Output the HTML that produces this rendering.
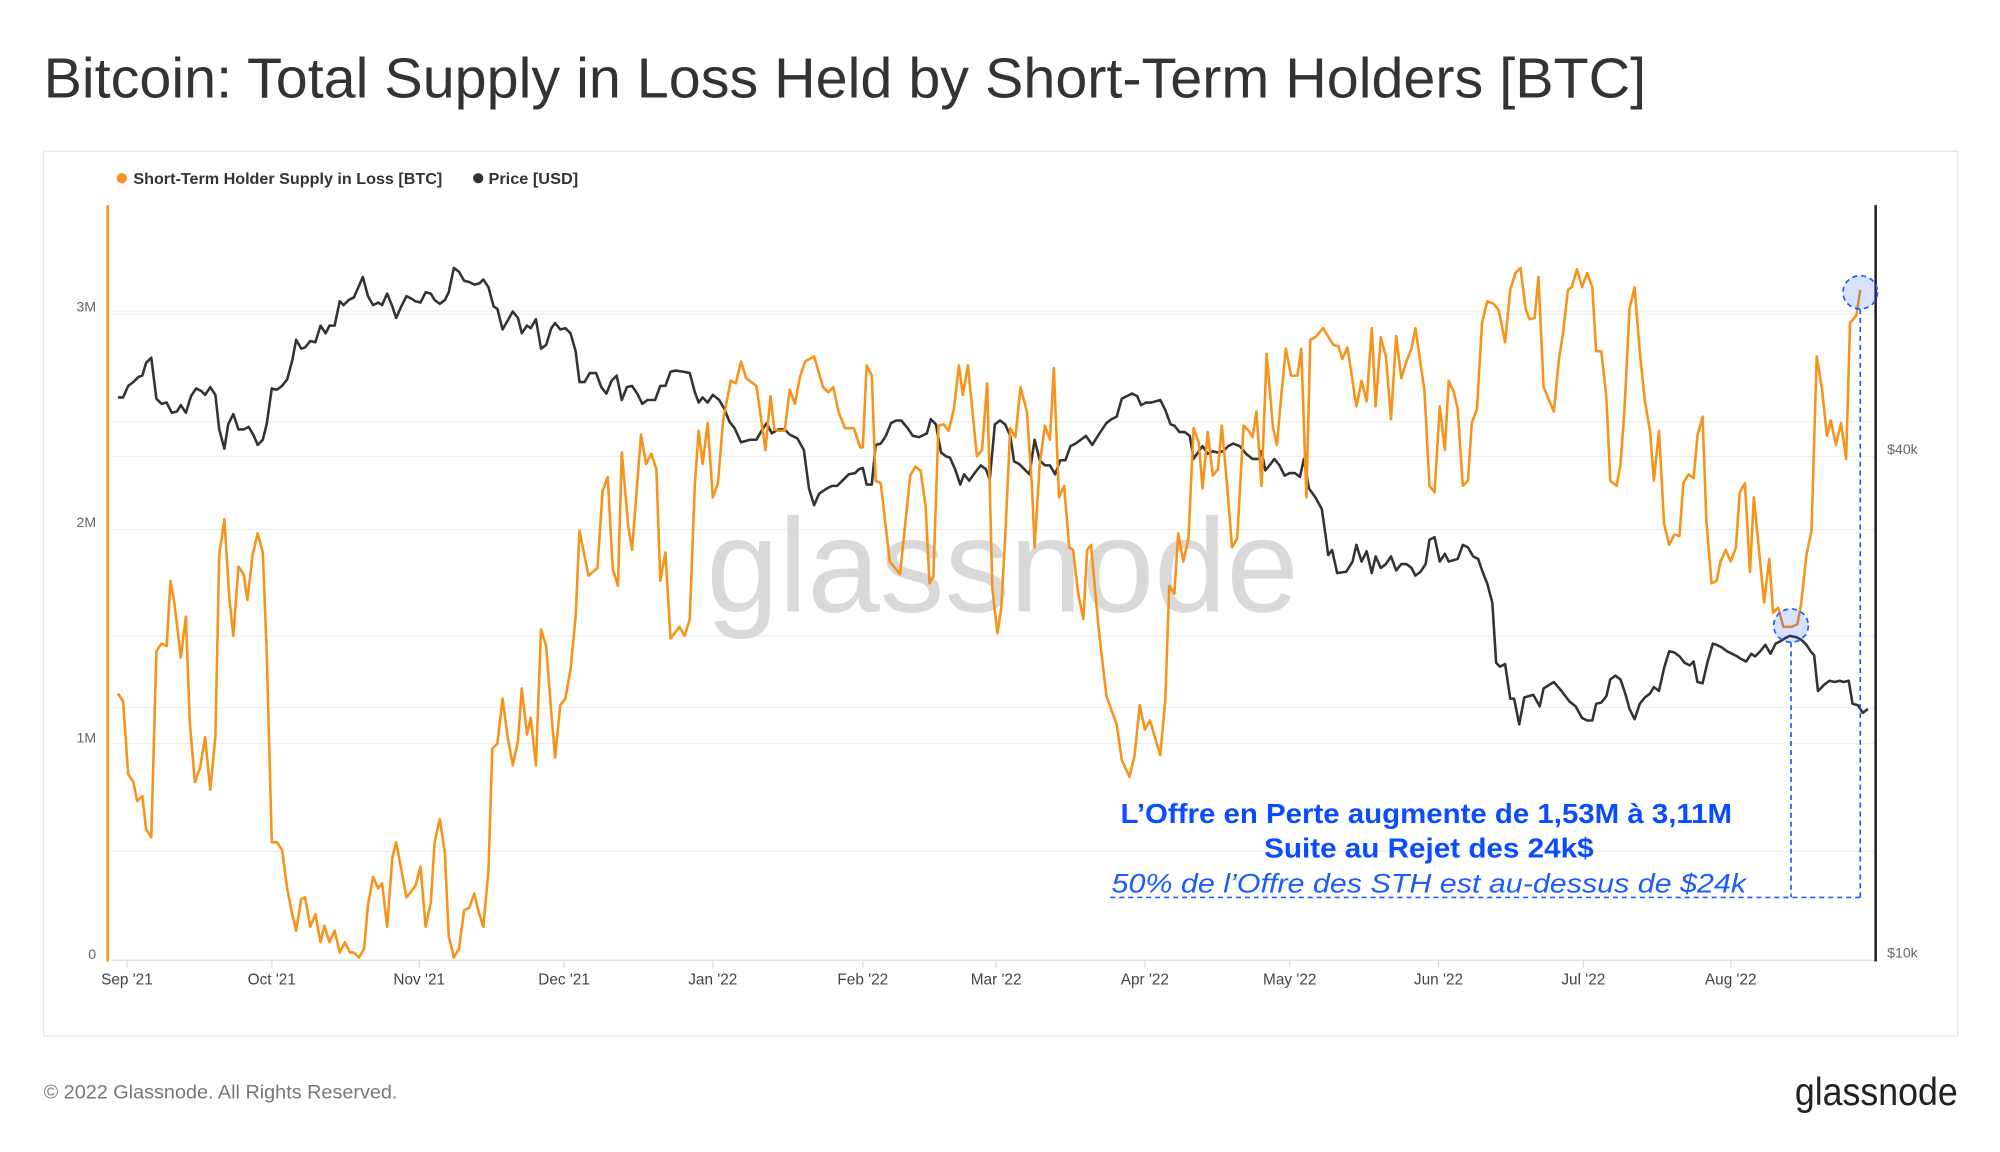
<!DOCTYPE html>
<html><head><meta charset="utf-8"><style>html,body{margin:0;padding:0;background:#fff}svg{display:block}</style></head>
<body>
<svg width="2000" height="1152" viewBox="0 0 1560 898.6" preserveAspectRatio="none" xmlns="http://www.w3.org/2000/svg" font-family="Liberation Sans, sans-serif">
<rect width="1560" height="899" fill="#fff"/>
<text x="34" y="76" font-size="44" fill="#333" textLength="1250" lengthAdjust="spacingAndGlyphs">Bitcoin: Total Supply in Loss Held by Short-Term Holders [BTC]</text>
<rect x="34" y="118" width="1493" height="690" fill="none" stroke="#e6e6e6" stroke-width="1"/>
<circle cx="95" cy="139" r="4" fill="#f7931a"/>
<text x="104" y="143.5" font-size="12" font-weight="bold" fill="#333" textLength="241" lengthAdjust="spacingAndGlyphs">Short-Term Holder Supply in Loss [BTC]</text>
<circle cx="373" cy="139" r="4" fill="#333"/>
<text x="381" y="143.5" font-size="12" font-weight="bold" fill="#333" textLength="70" lengthAdjust="spacingAndGlyphs">Price [USD]</text>
<g stroke="#efefef" stroke-width="1">
<line x1="88" x2="1463" y1="242.6" y2="242.6"/><line x1="88" x2="1463" y1="245" y2="245"/>
<line x1="88" x2="1463" y1="329" y2="329"/><line x1="88" x2="1463" y1="356" y2="356"/>
<line x1="88" x2="1463" y1="413" y2="413"/><line x1="88" x2="1463" y1="496" y2="496"/>
<line x1="88" x2="1463" y1="552" y2="552"/><line x1="88" x2="1463" y1="580" y2="580"/>
<line x1="88" x2="1463" y1="664" y2="664"/>
</g>
<line x1="88" x2="1463" y1="749" y2="749" stroke="#ddd"/>
<g stroke="#ddd"><line x1="99" x2="99" y1="749" y2="755"/><line x1="212" x2="212" y1="749" y2="755"/><line x1="327" x2="327" y1="749" y2="755"/><line x1="440" x2="440" y1="749" y2="755"/><line x1="556" x2="556" y1="749" y2="755"/><line x1="673" x2="673" y1="749" y2="755"/><line x1="777" x2="777" y1="749" y2="755"/><line x1="893" x2="893" y1="749" y2="755"/><line x1="1006" x2="1006" y1="749" y2="755"/><line x1="1122" x2="1122" y1="749" y2="755"/><line x1="1235" x2="1235" y1="749" y2="755"/><line x1="1350" x2="1350" y1="749" y2="755"/></g>
<g font-size="12" fill="#444" text-anchor="middle">
<text x="99" y="768">Sep '21</text><text x="212" y="768">Oct '21</text><text x="327" y="768">Nov '21</text><text x="440" y="768">Dec '21</text><text x="556" y="768">Jan '22</text><text x="673" y="768">Feb '22</text><text x="777" y="768">Mar '22</text><text x="893" y="768">Apr '22</text><text x="1006" y="768">May '22</text><text x="1122" y="768">Jun '22</text><text x="1235" y="768">Jul '22</text><text x="1350" y="768">Aug '22</text>
</g>
<g font-size="11" fill="#666" text-anchor="end">
<text x="75" y="243">3M</text><text x="75" y="411">2M</text><text x="75" y="579">1M</text><text x="75" y="748">0</text>
</g>
<g font-size="11" fill="#666"><text x="1472" y="354">$40k</text><text x="1472" y="747">$10k</text></g>
<text x="551" y="477" font-size="104" fill="#d9d9d9" textLength="462" lengthAdjust="spacingAndGlyphs">glassnode</text>
<line x1="84" x2="84" y1="160" y2="750" stroke="#f7931a" stroke-width="2"/>
<line x1="1463" x2="1463" y1="160" y2="750" stroke="#222" stroke-width="2"/>
<polyline fill="none" stroke="#333" stroke-width="2" stroke-linejoin="round" points="92,310 96,310 100,301 104,298 108,294 111,293 114,283 118,279 122,311 126,315 130,314 134,322 138,321 141,316 145,322 149,309 153,303 157,305 160,308 164,302 168,308 171,335 175,350 178,331 182,323 186,335 190,335 194,333 198,340 201,347 205,343 208,331 212,303 216,304 220,301 224,296 228,281 231,265 235,272 238,271 242,266 246,267 250,254 254,260 257,254 261,254 265,235 268,238 272,234 276,232 280,223 283,216 287,231 291,238 295,236 298,238 302,229 306,239 309,248 313,239 317,231 321,233 324,235 328,236 332,228 336,229 339,234 343,237 347,234 350,228 354,209 358,212 362,219 366,220 370,222 374,221 377,218 381,224 385,239 388,241 392,257 396,250 400,243 404,248 407,260 411,254 414,256 418,249 422,272 426,269 430,256 433,252 437,257 441,256 445,260 449,274 452,298 456,298 460,291 465,291 469,302 473,307 477,297 481,293 485,312 489,302 493,301 497,307 501,315 505,312 511,312 515,301 519,301 523,290 527,289 533,290 538,291 542,306 545,314 548,310 552,314 556,308 561,312 565,319 569,329 573,334 578,345 585,343 590,343 594,336 598,330 602,338 607,335 612,335 616,339 622,342 627,351 631,381 635,394 639,385 645,381 649,379 653,379 658,374 662,370 667,369 670,366 673,365 676,378 680,378 683,347 687,346 691,340 695,330 699,328 703,328 708,334 712,340 717,341 723,338 726,327 730,331 734,353 738,356 741,357 745,366 749,378 752,370 756,375 761,368 765,363 769,366 772,374 776,331 780,328 784,331 788,340 791,360 795,362 799,366 803,370 807,343 811,359 815,363 819,363 823,370 827,359 831,359 835,348 839,346 843,343 847,340 852,347 857,339 863,330 867,327 871,325 875,311 879,309 883,307 887,309 890,316 894,314 898,314 905,312 909,320 913,331 916,332 920,337 924,337 928,340 931,358 935,352 938,348 942,354 946,352 950,353 954,352 958,348 962,346 967,348 972,354 977,358 982,358 984,352 987,367 991,362 994,358 998,363 1002,371 1006,369 1010,369 1014,372 1017,358 1021,381 1026,388 1031,397 1034,418 1036,433 1039,429 1043,447 1050,446 1055,438 1058,425 1062,438 1066,430 1070,447 1073,434 1077,443 1081,440 1085,434 1089,445 1093,440 1097,440 1101,443 1104,449 1108,446 1112,440 1115,421 1119,419 1123,438 1127,432 1130,438 1137,436 1141,425 1145,427 1149,434 1153,436 1156,445 1160,455 1164,470 1167,517 1170,520 1174,518 1178,545 1181,545 1185,565 1189,544 1196,542 1201,551 1204,537 1212,532 1218,539 1224,547 1229,551 1234,560 1238,562 1242,562 1245,549 1249,548 1253,543 1256,530 1260,527 1264,530 1268,542 1271,553 1275,561 1279,549 1283,544 1287,541 1290,536 1294,539 1298,521 1302,508 1306,509 1310,512 1314,517 1318,519 1321,516 1324,532 1328,533 1332,516 1336,502 1339,503 1343,505 1347,508 1351,510 1355,512 1358,514 1362,516 1366,510 1369,512 1373,508 1377,503 1381,510 1385,502 1389,500 1392,498 1396,496 1401,497 1405,499 1409,503 1413,509 1415,511 1418,539 1423,534 1427,531 1431,532 1435,531 1438,532 1442,531 1445,549 1449,550 1453,556 1457,553"/>
<polyline fill="none" stroke="#f7931a" stroke-width="2" stroke-linejoin="round" points="92,541 96,547 100,604 104,610 107,625 111,621 114,647 118,653 122,508 126,502 130,504 133,453 136,470 141,513 145,481 148,563 152,610 156,599 160,575 164,616 168,575 171,433 175,405 179,468 182,496 186,442 190,448 193,468 197,433 201,416 205,431 208,508 212,657 216,657 220,663 224,693 227,709 231,726 235,701 238,700 242,723 246,713 250,735 253,722 257,735 261,726 265,743 269,735 273,743 276,743 280,747 284,740 287,706 291,684 295,693 298,689 302,723 306,669 309,657 313,678 317,700 321,695 324,691 328,676 332,723 336,704 339,657 343,639 347,665 350,730 354,747 358,740 362,710 366,708 370,697 373,710 377,723 381,679 384,584 388,580 392,545 396,575 400,597 404,578 407,537 411,573 414,560 418,597 422,491 426,504 430,556 433,591 437,550 441,545 445,522 449,481 452,414 459,449 466,443 470,383 474,372 478,444 482,457 485,353 490,410 493,429 500,339 504,362 508,354 512,366 515,453 519,431 523,498 530,489 534,496 538,483 542,377 545,336 548,362 552,330 556,388 560,377 564,328 570,297 574,299 578,282 582,295 590,301 594,329 597,351 601,309 604,335 607,336 612,336 616,304 620,315 624,294 628,282 635,278 642,302 646,306 650,302 654,321 659,334 666,334 671,349 673,349 676,285 680,293 683,375 687,377 694,438 702,448 710,371 714,364 718,367 722,395 725,455 728,450 732,332 736,331 740,336 744,319 748,285 751,308 755,285 762,356 766,351 770,299 774,459 778,494 781,474 784,420 788,334 792,341 796,302 801,321 805,381 807,427 811,362 815,332 819,343 822,287 826,388 830,379 834,427 837,429 841,463 845,483 848,429 851,425 857,491 863,543 871,565 875,593 881,606 885,589 889,550 893,569 897,562 905,589 909,545 912,457 916,463 919,416 923,438 927,420 931,334 935,345 938,381 942,337 946,371 950,366 953,332 957,377 961,427 965,420 970,332 974,336 977,341 980,321 984,379 988,276 993,334 996,347 1000,302 1003,272 1007,293 1012,293 1015,272 1019,388 1022,265 1026,263 1032,256 1040,269 1044,270 1047,280 1051,271 1058,317 1062,297 1066,313 1070,256 1073,317 1077,263 1081,278 1085,327 1089,262 1093,295 1097,282 1101,272 1104,256 1111,304 1115,379 1119,384 1123,317 1127,351 1130,297 1134,306 1137,319 1141,379 1145,375 1148,330 1152,319 1156,252 1160,235 1165,237 1169,242 1174,267 1178,226 1182,213 1186,209 1190,241 1193,249 1197,248 1200,216 1204,302 1212,321 1216,280 1219,261 1223,226 1226,224 1230,210 1234,224 1238,213 1242,224 1245,274 1249,274 1253,310 1256,375 1261,379 1264,362 1267,321 1271,241 1275,224 1279,274 1283,313 1287,336 1290,375 1294,336 1298,409 1302,425 1306,417 1310,418 1313,377 1317,370 1321,373 1324,340 1328,325 1331,407 1335,455 1339,453 1342,438 1346,429 1350,438 1354,427 1357,384 1361,377 1365,446 1368,388 1372,429 1376,470 1380,436 1383,478 1387,474 1391,489 1397,489 1402,487 1405,470 1409,433 1413,414 1417,278 1421,302 1425,340 1428,328 1432,347 1436,330 1440,358 1443,252 1448,246 1451,226"/>
<g stroke="#1a5cff" stroke-width="1.3" stroke-dasharray="4,3" fill="none">
<line x1="1397" x2="1397" y1="501" y2="700"/>
<line x1="1451" x2="1451" y1="241" y2="700"/>
<line x1="866" x2="1451" y1="700" y2="700"/>
<ellipse cx="1397" cy="488" rx="13.5" ry="13" fill="#1a5cff" fill-opacity="0.18"/>
<ellipse cx="1451" cy="228" rx="13.5" ry="13" fill="#1a5cff" fill-opacity="0.18"/>
</g>
<text x="874" y="642" font-size="22" font-weight="bold" fill="#0a4cff" textLength="477" lengthAdjust="spacingAndGlyphs">L’Offre en Perte augmente de 1,53M à 3,11M</text>
<text x="986" y="669" font-size="22" font-weight="bold" fill="#0a4cff" textLength="257" lengthAdjust="spacingAndGlyphs">Suite au Rejet des 24k$</text>
<text x="867" y="696" font-size="21" font-style="italic" fill="#1a5cff" textLength="495" lengthAdjust="spacingAndGlyphs">50% de l’Offre des STH est au-dessus de $24k</text>
<text x="34" y="857" font-size="15" fill="#777" textLength="276" lengthAdjust="spacingAndGlyphs">© 2022 Glassnode. All Rights Reserved.</text>
<text x="1527" y="862" font-size="30" fill="#222" text-anchor="end" textLength="127" lengthAdjust="spacingAndGlyphs">glassnode</text>
</svg>
</body></html>
